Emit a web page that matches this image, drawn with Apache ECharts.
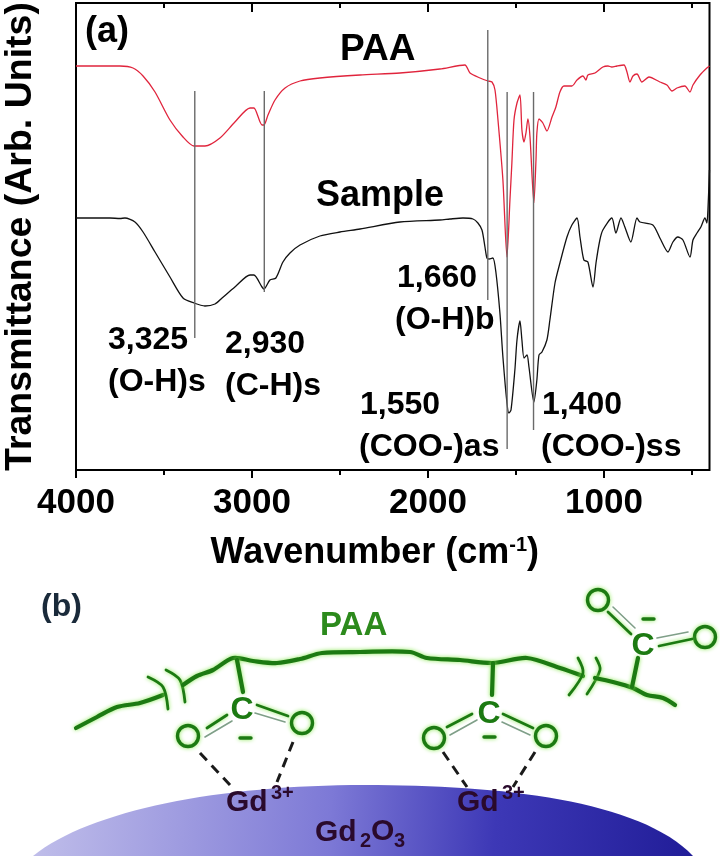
<!DOCTYPE html>
<html><head><meta charset="utf-8">
<style>html,body{margin:0;padding:0;background:#fff}#c{width:720px;height:858px}</style>
<script src="https://cdn.jsdelivr.net/npm/echarts@6/dist/echarts.min.js"></script>
</head><body><div id="c"></div>
<script>
const paaTrace=[[4000,404],[3864,404],[3750,404],[3676,402],[3619,394],[3551,378],[3466,350],[3392,333],[3330,324],[3267,324],[3182,332],[3097,348],[3011,362],[2989,362],[2943,345],[2932,345],[2909,355],[2869,370],[2812,382],[2727,389],[2614,392],[2386,395],[2159,397],[1932,401],[1790,405],[1761,397],[1704,392],[1659,389],[1636,388],[1619,380],[1602,350],[1574,290],[1551,213],[1534,270],[1523,307],[1511,350],[1494,367],[1477,375],[1466,340],[1454,328],[1443,337],[1432,351],[1420,333],[1398,267],[1386,310],[1381,337],[1369,351],[1347,347],[1324,339],[1295,353],[1273,363],[1250,378],[1227,384],[1182,384],[1153,390],[1119,394],[1102,390],[1091,395],[1051,397],[1006,403],[977,404],[955,403],[926,404],[886,405],[869,398],[852,388],[835,394],[812,396],[784,388],[744,393],[682,388],[642,385],[613,379],[585,382],[540,384],[511,378],[494,385],[454,395],[415,402],[400,404]];
const sampleTrace=[[4000,252],[3807,252],[3750,251.5],[3722,252],[3665,248],[3619,238],[3551,218],[3466,193],[3392,172],[3330,167],[3267,164],[3210,166],[3170,172],[3097,183],[3011,195],[2989,195],[2943,183],[2932,181],[2898,190],[2864,192],[2824,208],[2784,217],[2727,225],[2614,234],[2500,238],[2386,241],[2159,248],[1932,250],[1875,251],[1801,252],[1744,251],[1716,247],[1693,240],[1676,223],[1665,212],[1653,211],[1631,212],[1614,198],[1591,157],[1574,113],[1551,67],[1540,57],[1528,60],[1506,100],[1494,130],[1477,149],[1466,130],[1454,112],[1437,115],[1426,103],[1398,68],[1381,90],[1369,115],[1352,118],[1324,130],[1307,150],[1278,187],[1250,207],[1210,233],[1182,245],[1153,252],[1136,233],[1114,210],[1091,208],[1062,183],[1045,207],[1023,230],[1006,240],[955,252],[932,237],[903,252],[881,243],[847,228],[812,252],[795,248],[722,245],[682,232],[636,218],[608,228],[580,233],[551,230],[511,213],[494,230],[471,237],[449,243],[426,252],[415,247],[409,260],[400,300]];
const peakLines=[[3325,132,379],[2930,178,379],[1660,170,440],[1550,21,378],[1400,40,378]];
const majorTicks=[4000,3000,2000,1000];
const minorTicks=[3500,2500,1500,500];
const F='"Liberation Sans",Arial,sans-serif';
const B='#000';

const xBase={type:'value',min:400,max:4000,inverse:true,splitLine:{show:false},axisLine:{show:false},axisLabel:{show:false},gridIndex:0};
const peakSeries=peakLines.map(p=>({type:'line',data:[[p[0],p[1]],[p[0],p[2]]],symbol:'none',silent:true,z:5,lineStyle:{color:'#6a6a6a',width:1.4}}));

echarts.graphic.registerShape('blob',echarts.graphic.extendShape({
 buildPath(ctx){ctx.moveTo(33,856);ctx.bezierCurveTo(90,810,220,785,365,785);ctx.bezierCurveTo(500,785,640,800,693,856);ctx.closePath();}
}));

const G='#1c7a12', H='#8ee85a';
const st=(w,c)=>({stroke:c||G,lineWidth:w,fill:null,lineCap:'round',lineJoin:'round',shadowColor:c?undefined:H,shadowBlur:c?0:4});
const poly=(pts,w,c)=>({type:'polyline',shape:{points:pts,smooth:0.3},style:st(w,c)});
const line=(a,b,w,c,dash)=>({type:'line',shape:{x1:a[0],y1:a[1],x2:b[0],y2:b[1]},style:Object.assign(st(w,c),dash?{lineDash:dash,lineCap:'butt'}:{})});
const oxy=(x,y)=>({type:'circle',shape:{cx:x,cy:y,r:10.5},style:st(3.4)});
const txt=(t,x,y,fs,col,extra)=>({type:'text',x:x,y:y,style:Object.assign({text:t,font:'bold '+fs+'px '+F,fill:col||B,textVerticalAlign:'middle',textAlign:'left'},extra||{})});
const C=(x,y)=>txt('C',x,y,32,G,{textAlign:'center',shadowColor:H,shadowBlur:3});
const thin='#7f9f88';
const gd='#2a0a2c';

const graphics=[
 txt('(a)',85,32,36),txt('PAA',340,50,37),txt('Sample',316,196,36),
 txt('3,325',108,340,32),txt('(O-H)s',108,382,32),
 txt('2,930',225,344,32),txt('(C-H)s',225,386,32),
 txt('1,660',397,278,32),txt('(O-H)b',395,320,32),
 txt('1,550',360,405,32),txt('(COO-)as',359,447,32),
 txt('1,400',542,405,32),txt('(COO-)ss',541,447,32),
 txt('(b)',41,607,32,'#1a2a3a'),
 {type:'blob',shape:{},
  style:{fill:new echarts.graphic.LinearGradient(0,0.2,1,0.8,[{offset:0,color:'#c0beea'},{offset:0.45,color:'#7d79d6'},{offset:0.7,color:'#3d38b6'},{offset:1,color:'#211d98'}])}},
 txt('PAA',320,626,33,'#2c8a1c'),
 poly([[76,728],[97,717],[117,707],[140,703],[163,695]],4.2),
 poly([[148,677],[163,687],[168,709]],2.8),poly([[166,670],[180,680],[185,702]],2.8),
 poly([[183,685],[197,676],[213,670],[233,658],[253,661],[277,663],[300,659],[322,653],[360,652],[410,652],[427,658],[460,660],[493,663],[527,658],[560,668],[583,676]],4.2),
 poly([[578,658],[583,673],[569,695]],2.8),poly([[596,658],[600,670],[587,694]],2.8),
 poly([[595,678],[613,682],[633,688],[647,695],[663,698],[675,705]],4.2),
 line([632,687],[638,658],4.2),
 line([237,660],[243,692],4.2),line([493,663],[492,695],4.2),
 C(242,710),C(489,714),C(643,646),
 oxy(188,736),oxy(302,723),oxy(434,738),oxy(546,736),oxy(598,600),oxy(705,637),
 line([207,728],[227,715],2.8),line([205,737],[232,721],1.6,thin),line([257,705],[288,716],2.8),line([255,713],[285,722],1.6,thin),
 line([447,727],[472,714],2.8),line([450,735],[477,720],1.6,thin),line([503,714],[533,728],2.8),line([502,722],[530,735],1.6,thin),
 line([608,612],[631,634],2.8),line([613,607],[635,628],1.6,thin),line([659,646],[692,639],2.8),line([657,638],[688,632],1.6,thin),
 line([240,738],[251,738],3.4),line([484,737],[495,737],3.4),line([643,619],[654,619],3.4),
 line([200,753],[230,785],3,'#1a1a1a',[10,7]),line([293,742],[277,782],3,'#1a1a1a',[10,7]),
 line([443,752],[467,787],3,'#1a1a1a',[10,7]),line([535,752],[513,787],3,'#1a1a1a',[10,7]),
 txt('Gd',226,803,30,gd),txt('3+',271,793,20,gd),
 txt('Gd',457,803,30,gd),txt('3+',502,793,20,gd),
 txt('Gd',315,833,30,gd),txt('2',360,841,20,gd),txt('O',371,832,30,gd),txt('3',394,841,20,gd),
];

const chart=echarts.init(document.getElementById('c'),null,{renderer:'canvas'});
chart.setOption({
 animation:false,backgroundColor:'#fff',
 grid:{left:76,top:3,width:633.5,height:467,outerBoundsMode:'none',show:true,borderColor:'#000',borderWidth:2,backgroundColor:'transparent'},
 xAxis:[
  Object.assign({},xBase,{position:'bottom',axisTick:{show:true,length:8,inside:false,lineStyle:{color:B,width:2},customValues:majorTicks},
   axisLabel:{show:true,customValues:majorTicks,color:B,fontFamily:F,fontWeight:'bold',fontSize:35,margin:16,formatter:v=>String(v)},
   name:'Wavenumber (cm{s|-1})',nameLocation:'middle',nameGap:65,
   nameTextStyle:{color:B,fontFamily:F,fontWeight:'bold',fontSize:36,padding:[0,36,0,0],rich:{s:{fontFamily:F,fontWeight:'bold',fontSize:20,verticalAlign:'top',padding:[0,0,16,0],color:B}}}}),
  Object.assign({},xBase,{position:'bottom',axisTick:{show:true,length:5,lineStyle:{color:B,width:2},customValues:minorTicks}}),
  Object.assign({},xBase,{position:'top',axisTick:{show:true,length:9,inside:true,lineStyle:{color:B,width:2},customValues:majorTicks}}),
  Object.assign({},xBase,{position:'top',axisTick:{show:true,length:5,inside:true,lineStyle:{color:B,width:2},customValues:minorTicks}})
 ],
 yAxis:{type:'value',min:0,max:467,splitLine:{show:false},axisTick:{show:false},axisLine:{show:false},axisLabel:{show:false},
  name:'Transmittance (Arb. Units)',nameLocation:'middle',nameGap:36,nameTextStyle:{color:B,fontFamily:F,fontWeight:'bold',fontSize:37.5}},
 series:[
  {name:'PAA',type:'line',data:paaTrace,symbol:'none',silent:true,z:3,smooth:0.25,lineStyle:{color:'#e0243c',width:1.3}},
  {name:'Sample',type:'line',data:sampleTrace,symbol:'none',silent:true,z:3,smooth:0.25,lineStyle:{color:'#111',width:1.3}},
  ...peakSeries
 ],
 graphic:graphics
});
</script></body></html>
